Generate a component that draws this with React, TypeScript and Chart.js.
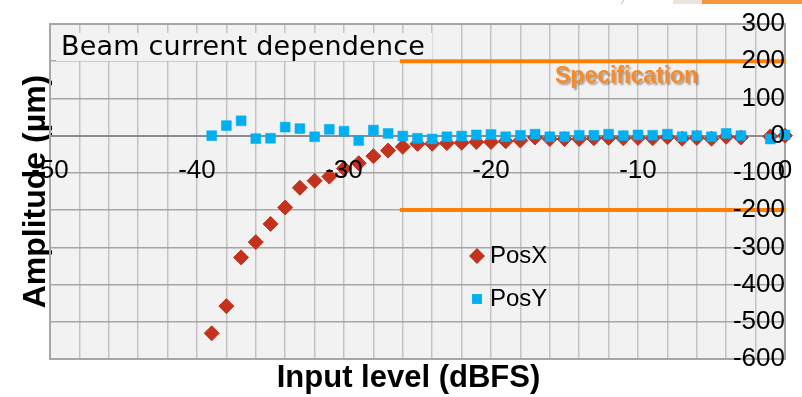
import React, { useEffect, useRef } from 'react';
import { Chart, registerables } from 'chart.js';

Chart.register(...registerables);

// ---- data ----
const levels = [-39, -38, -37, -36, -35, -34, -33, -32, -31, -30, -29, -28, -27, -26, -25, -24, -23, -22, -21, -20, -19, -18, -17, -16, -15, -14, -13, -12, -11, -10, -9, -8, -7, -6, -5, -4, -3, -1, 0];
const posX = [-531, -458, -327, -286, -237, -193, -140, -121, -110, -88, -74, -55, -40, -30, -22, -22, -20, -19, -17, -17, -15, -13, -5, -9, -9, -9, -7, -6, -7, -6, -7, -4, -8, -6, -8, -3, -5, -2, 0];
const posY = [0, 27, 40, -8, -7, 23, 19, -3, 17, 12, -13, 15, 6, -1, -7, -9, -3, -1, 2, 3, -3, 1, 4, -3, -3, 1, 1, 4, 0, 2, 1, 4, -3, 0, -3, 6, 0, -9, 2];
const specLimits = [200, -200];
const specRange = [-26.2, 0];
const seriesNames = ['PosX', 'PosY'];
const chartTitle = 'Beam current dependence';
const specLabel = 'Specification';
const xTitle = 'Input level (dBFS)';
const yTitle = 'Amplitude (\u00b5m)';
const xRange = [-50, 0];
const yRange = [-600, 300];

const RED = '#c3321c';
const BLUE = '#00b0f0';
const ORANGE = '#ff8000';

function drawMarker(ctx: CanvasRenderingContext2D, style: string, x: number, y: number, r: number, color: string) {
  ctx.save();
  ctx.fillStyle = color;
  ctx.beginPath();
  if (style === 'rectRot') {
    ctx.moveTo(x - r, y);
    ctx.lineTo(x, y - r);
    ctx.lineTo(x + r, y);
    ctx.lineTo(x, y + r);
    ctx.closePath();
  } else {
    const h = r * Math.SQRT1_2;
    ctx.rect(x - h, y - h, 2 * h, 2 * h);
  }
  ctx.fill();
  ctx.restore();
}

const decorPlugin = {
  id: 'decor',
  afterLayout(chart: any) {
    const s = chart.scales.xT;
    if (s) s.left -= 18;
  },
  beforeDraw(chart: any) {
    const { ctx, chartArea: a } = chart;
    ctx.save();
    ctx.fillStyle = '#f2f2f2';
    ctx.fillRect(a.left, a.top, a.right - a.left, a.bottom - a.top);
    ctx.restore();
  },
  beforeDatasetsDraw(chart: any) {
    const { ctx, chartArea: a } = chart;
    ctx.save();
    // frame
    ctx.strokeStyle = '#a6a6a6';
    ctx.lineWidth = 2;
    ctx.strokeRect(a.left, a.top, a.right - a.left, a.bottom - a.top);
    // title box + title
    ctx.fillStyle = '#f2f2f2';
    ctx.fillRect(a.left + 6, a.top + 9, 376, 28);
    ctx.fillStyle = '#000';
    ctx.font = '27px "DejaVu Sans"';
    (ctx as any).letterSpacing = '0.2px';
    ctx.textAlign = 'left';
    ctx.textBaseline = 'alphabetic';
    ctx.fillText(chartTitle, a.left + 11, a.top + 31);
    (ctx as any).letterSpacing = '0px';
    // specification label
    ctx.font = 'bold 23px "Liberation Sans"';
    ctx.shadowColor = 'rgba(0,0,0,0.35)';
    ctx.shadowOffsetX = 2;
    ctx.shadowOffsetY = 2;
    ctx.shadowBlur = 2;
    ctx.fillStyle = '#f68b2a';
    ctx.fillText(specLabel, 555, 83);
    ctx.restore();
  },
  afterDraw(chart: any) {
    const { ctx } = chart;
    ctx.save();
    // legend
    const items = chart.data.datasets.filter((d: any) => seriesNames.includes(d.label));
    const ys = [256, 299];
    items.forEach((d: any, i: number) => {
      drawMarker(ctx, d.pointStyle, 477, ys[i], d.pointStyle === 'rectRot' ? 8 : 7, d.backgroundColor);
      ctx.fillStyle = '#000';
      ctx.font = '24px "Liberation Sans"';
      ctx.textAlign = 'left';
      ctx.textBaseline = 'middle';
      ctx.fillText(d.label, 490, ys[i]);
    });
    // slide decoration at top right
    ctx.fillStyle = '#ebe4dc';
    ctx.fillRect(673, 0, 29, 4);
    ctx.fillStyle = '#f7963f';
    ctx.fillRect(702, 0, 100, 4);
    ctx.strokeStyle = '#b8b8b8';
    ctx.lineWidth = 1;
    ctx.beginPath();
    ctx.moveTo(621, 4);
    ctx.lineTo(624, 0);
    ctx.stroke();
    ctx.restore();
  },
};

export default function App() {
  const ref = useRef<HTMLCanvasElement>(null);
  useEffect(() => {
    document.body.style.margin = '0';
    const tickFont = { family: '"Liberation Sans"', size: 26 };
    const noPad = (s: any) => { s.paddingTop = 0; s.paddingBottom = 0; s.paddingLeft = 0; s.paddingRight = 0; };
    const chart = new Chart(ref.current as HTMLCanvasElement, {
      type: 'scatter',
      data: {
        datasets: [
          {
            label: seriesNames[0],
            data: levels.map((x, i) => ({ x, y: posX[i] })),
            pointStyle: 'rectRot',
            pointRadius: 7.5,
            backgroundColor: RED,
            borderColor: RED,
            borderWidth: 1,
            order: 2,
            clip: 12,
          },
          {
            label: seriesNames[1],
            data: levels.map((x, i) => ({ x, y: posY[i] })),
            pointStyle: 'rect',
            pointRadius: 7,
            backgroundColor: BLUE,
            borderColor: BLUE,
            borderWidth: 0.5,
            order: 1,
            clip: 12,
          },
          ...specLimits.map((lim) => ({
            label: 'spec' + lim,
            data: specRange.map((x) => ({ x, y: lim })),
            showLine: true,
            pointRadius: 0,
            borderColor: ORANGE,
            backgroundColor: ORANGE,
            borderWidth: 4,
            order: 3,
            clip: 4,
          })),
        ],
      } as any,
      options: {
        responsive: false,
        animation: false,
        devicePixelRatio: 1,
        events: [],
        layout: { padding: { left: 0, right: 17, top: 24, bottom: 0 } },
        plugins: { legend: { display: false }, tooltip: { enabled: false }, title: { display: false } },
        scales: {
          x: {
            type: 'linear',
            axis: 'x',
            position: { y: 0 },
            min: xRange[0],
            max: xRange[1],
            ticks: {
              stepSize: 2,
              autoSkip: false,
              maxRotation: 0,
              minRotation: 0,
              padding: 20,
              z: 1,
              color: '#000',
              font: tickFont,
              callback: (v: any) => (Math.abs(Number(v) % 10) < 1e-6 ? String(Math.round(Number(v))) : ''),
            },
            grid: { color: '#c3c3c3', lineWidth: 1.5, drawTicks: false },
            border: { display: true, color: '#8c8c8c', width: 2 },
            afterFit: noPad,
          },
          y: {
            type: 'linear',
            axis: 'y',
            position: { x: 0 },
            min: yRange[0],
            max: yRange[1],
            ticks: { stepSize: 100, padding: 27, z: 1, color: '#000', font: tickFont },
            grid: { color: '#a6a6a6', lineWidth: 1.5, drawTicks: false },
            border: { display: true, color: '#a6a6a6', width: 2 },
            afterFit: noPad,
          },
          xT: {
            type: 'linear',
            axis: 'x',
            position: 'bottom',
            min: xRange[0],
            max: xRange[1],
            display: true,
            ticks: { display: false },
            grid: { display: false, drawTicks: false },
            border: { display: false },
            title: {
              display: true,
              text: xTitle,
              color: '#000',
              font: { family: '"Liberation Sans"', size: 31, weight: 'bold', lineHeight: 1.2 },
              padding: { top: 0, bottom: 0 },
            },
            afterFit: (s: any) => { s.height = 38; noPad(s); },
          },
          yT: {
            type: 'linear',
            axis: 'y',
            position: 'left',
            min: yRange[0],
            max: yRange[1],
            display: true,
            ticks: { display: false },
            grid: { display: false, drawTicks: false },
            border: { display: false },
            title: {
              display: true,
              text: yTitle,
              color: '#000',
              font: { family: '"Liberation Sans"', size: 32, weight: 'bold', lineHeight: 1.2 },
              padding: { top: 17, bottom: 0 },
            },
            afterFit: (s: any) => { s.width = 50; noPad(s); },
          },
        },
      } as any,
      plugins: [decorPlugin],
    });
    return () => chart.destroy();
  }, []);
  return (
    <div style={{ width: 802, height: 397 }}>
      <canvas ref={ref} width={802} height={397} style={{ display: 'block' }} />
    </div>
  );
}
